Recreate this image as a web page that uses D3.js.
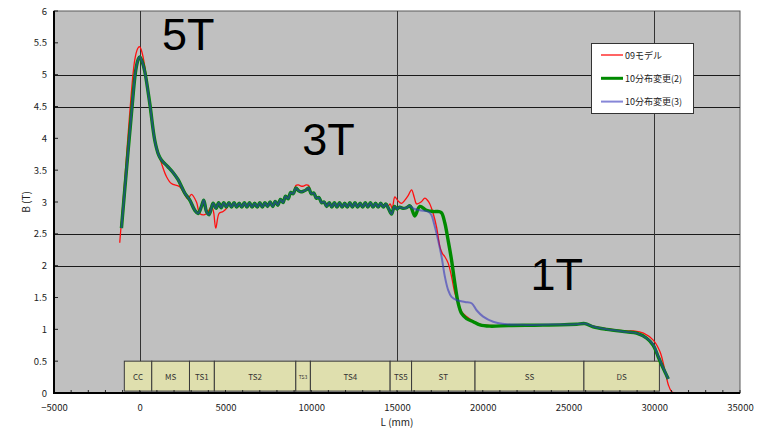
<!DOCTYPE html>
<html>
<head>
<meta charset="utf-8">
<script src="https://cdn.jsdelivr.net/npm/d3@7/dist/d3.min.js"></script>
<style>
  html, body { margin: 0; padding: 0; background: #ffffff; }
  svg { display: block; }
</style>
</head>
<body>
<svg id="chart" width="759" height="428"></svg>
<script>
// Field strength B (T) along the magnet line L (mm)

// Common rise and 5T peak of the 2010 layouts
const headNew = [[-1067,2.59],[-776,3.5],[-484,4.39],[-233,5.07],[-90,5.24],[0,5.28],[120,5.22],[292,5.05],
  [583,4.55],[875,3.97],[1100,3.74],[1264,3.66],[1653,3.55],[1950,3.46],[2236,3.35],[2625,3.14],[2917,3.03],
  [3208,2.87],[3400,2.82],[3600,2.93],[3733,3.03],[3890,2.85],[4043,2.8],[4276,2.98],[4450,2.9],[4600,2.99],
  [4750,2.91],[4900,2.99],[5050,2.92]];

// Rise and 5T peak of the 09 model
const head09 = [[-1167,2.36],[-875,3.35],[-583,4.4],[-292,5.23],[-120,5.41],[-20,5.44],[100,5.38],[292,5.13],
  [583,4.5],[875,3.97],[1264,3.61],[1556,3.4],[1847,3.29],[2333,3.24],[2600,3.13],[2800,3.05],[3014,3.12],
  [3307,3.0],[3500,2.82],[3792,2.8],[3985,2.85],[4180,2.93],[4300,2.85],[4433,2.59],[4627,2.82],[4860,2.85],
  [5055,2.9]];

// 3T section, coil ripple (TS2), shared by all layouts
const rippleTS2 = [[5200,2.99],[5350,2.92],[5500,2.99],[5650,2.92],[5800,2.98],[5950,2.92],[6100,2.99],
  [6250,2.92],[6400,2.99],[6550,2.92],[6700,2.98],[6850,2.92],[7000,2.99],[7150,2.92],[7300,2.99],[7450,2.93],
  [7600,3.0],[7750,2.93],[7900,3.01],[8050,2.95],[8200,3.04],[8350,2.99],[8500,3.09],[8650,3.05],[8800,3.15]];

// Local bump over TS3
const bumpNew = [[8950,3.13],[9100,3.22],[9250,3.18],[9400,3.16],[9550,3.17],[9700,3.19],[9850,3.22],
  [10000,3.13],[10150,3.14],[10300,3.06],[10450,3.07],[10600,2.99],[10750,3.0]];
const bump09 = [[8950,3.14],[9100,3.26],[9250,3.27],[9400,3.25],[9550,3.25],[9700,3.27],[9850,3.26],
  [10000,3.14],[10150,3.14],[10300,3.06],[10450,3.07],[10600,2.99],[10750,3.0]];

// Coil ripple over TS4, shared by all layouts
const rippleTS4 = [[10900,2.93],[11050,2.99],[11200,2.92],[11350,2.99],[11500,2.92],[11650,2.99],
  [11800,2.92],[11950,2.98],[12100,2.92],[12250,2.99],[12400,2.92],[12550,2.99],[12700,2.92],[12850,2.98],
  [13000,2.92],[13150,2.99],[13300,2.92],[13450,2.99],[13600,2.92],[13750,2.98],[13900,2.92],[14050,2.98],
  [14200,2.92],[14350,2.97]];

// TS5 entry, common to the 2010 layouts
const ts5New = [[14500,2.9],[14680,2.81],[14850,2.93],[15000,2.89],[15150,2.92],[15350,2.9],[15550,2.91],
  [15750,2.94]];

// Tails: ST drop to 1T, SS plateau, DS fall-off
const tail2 = [[15850,2.9],[16040,2.78],[16330,2.93],[16720,2.87],[17110,2.85],[17450,2.85],[17600,2.83],
  [17790,2.67],[17980,2.4],[18180,2.09],[18375,1.72],[18570,1.41],[18765,1.25],[19057,1.17],[19443,1.12],
  [19833,1.07],[20417,1.05],[21500,1.06],[23000,1.065],[24500,1.07],[25470,1.08],[25960,1.09],[26440,1.04],
  [27220,1.0],[28390,0.96],[28970,0.94],[29560,0.86],[29940,0.75],[30230,0.57],[30520,0.39],[30820,0.22]];

const tail3 = [[15940,2.9],[16330,2.87],[16820,2.85],[17000,2.8],[17150,2.67],[17400,2.4],[17600,2.14],
  [17790,1.83],[17980,1.62],[18180,1.51],[18470,1.46],[18960,1.43],[19350,1.41],[19640,1.3],[20025,1.2],
  [20610,1.12],[21390,1.08],[22500,1.07],[24000,1.075],[25470,1.08],[25960,1.09],[26440,1.045],[27220,1.0],
  [28390,0.96],[28970,0.94],[29560,0.86],[29940,0.76],[30230,0.58],[30520,0.4],[30820,0.22]];

const tail09 = [[14500,2.94],[14600,2.97],[14720,2.9],[14875,3.08],[15050,3.02],[15265,2.98],[15460,3.03],
  [15650,3.1],[15848,3.19],[16000,3.08],[16140,2.97],[16400,3.0],[16625,3.06],[16800,3.02],[16915,2.97],
  [17110,2.82],[17305,2.61],[17500,2.3],[17650,2.19],[17790,2.14],[17983,2.04],[18180,1.83],[18375,1.57],
  [18570,1.41],[18765,1.28],[19057,1.2],[19440,1.13],[19830,1.08],[20420,1.06],[21500,1.06],[23000,1.065],
  [24500,1.07],[25470,1.08],[25960,1.09],[26440,1.05],[27220,1.01],[28390,0.975],[28800,0.975],[29370,0.94],
  [29940,0.83],[30330,0.65],[30620,0.36],[30820,0.13],[31020,0.02],[31300,0.0],[31500,0.0]];

const seriesNames = ["09モデル", "10分布変更(2)", "10分布変更(3)"];
const series09 = [].concat(head09, rippleTS2, bump09, rippleTS4, tail09);
const series2 = [].concat(headNew, rippleTS2, bumpNew, rippleTS4, ts5New, tail2);
const series3 = [].concat(headNew, rippleTS2, bumpNew, rippleTS4, ts5New, tail3);

// Magnet sections along L
const sectionNames = ["CC", "MS", "TS1", "TS2", "TS3", "TS4", "TS5", "ST", "SS", "DS"];
const sectionStart = [-900, 700, 2900, 4350, 9100, 9950, 14600, 15850, 19550, 25900];
const sectionEnd   = [700, 2900, 4350, 9100, 9950, 14600, 15850, 19550, 25900, 30300];

// Field level annotations (left edge, baseline)
const levelLabels = ["5T", "3T", "1T"];
const levelL = [1300, 9480, 22780];
const levelB = [5.39, 3.74, 1.62];

const xTicks = [-5000, 0, 5000, 10000, 15000, 20000, 25000, 30000, 35000];
const yTicks = [0, 0.5, 1, 1.5, 2, 2.5, 3, 3.5, 4, 4.5, 5, 5.5, 6];
const yGrid = [2, 2.5, 4.5, 5];
const xGrid = [0, 15000, 30000];

const svg = d3.select("#chart");
const x = d3.scaleLinear().domain([-5000, 35000]).range([54, 740]);
const y = d3.scaleLinear().domain([0, 6]).range([393, 11]);

const labelFont = "'Noto Sans CJK JP', 'Noto Sans', sans-serif";

// plot area
svg.append("rect")
  .attr("x", x(-5000)).attr("y", y(6))
  .attr("width", x(35000) - x(-5000)).attr("height", y(0) - y(6))
  .attr("fill", "#c0c0c0").attr("stroke", "#5a5a5a").attr("stroke-width", 1);

// grid
svg.append("g").selectAll("line").data(yGrid).join("line")
  .attr("x1", x(-5000)).attr("x2", x(35000))
  .attr("y1", d => Math.round(y(d)) + 0.5).attr("y2", d => Math.round(y(d)) + 0.5)
  .attr("stroke", "#1a1a1a").attr("stroke-width", 1);
svg.append("g").selectAll("line").data(xGrid).join("line")
  .attr("x1", d => Math.round(x(d)) + 0.5).attr("x2", d => Math.round(x(d)) + 0.5)
  .attr("y1", y(6)).attr("y2", y(0))
  .attr("stroke", "#333333").attr("stroke-width", 1);

// section boxes
const sec = svg.append("g");
sectionNames.forEach((name, i) => {
  const x0 = x(sectionStart[i]), x1 = x(sectionEnd[i]);
  sec.append("rect")
    .attr("x", x0).attr("y", y(0.5))
    .attr("width", x1 - x0).attr("height", y(0.03) - y(0.5))
    .attr("fill", "#dfdfae").attr("stroke", "#3a3a3a").attr("stroke-width", 1);
  sec.append("text")
    .attr("x", (x0 + x1) / 2).attr("y", (y(0.5) + y(0.03)) / 2)
    .attr("text-anchor", "middle").attr("dominant-baseline", "central")
    .attr("font-family", labelFont)
    .attr("font-size", name === "TS3" ? 5 : 8)
    .attr("fill", "#333333")
    .text(name);
});

// series lines
const line = d3.line().x(d => x(d[0])).y(d => y(d[1])).curve(d3.curveCatmullRom.alpha(0.5));
svg.append("path").datum(series09).attr("d", line)
  .attr("fill", "none").attr("stroke", "#ff1010").attr("stroke-width", 1.3);
svg.append("path").datum(series2).attr("d", line)
  .attr("fill", "none").attr("stroke", "#008a00").attr("stroke-width", 3.4);
svg.append("path").datum(series3).attr("d", line)
  .attr("fill", "none").attr("stroke", "#3535bd").attr("stroke-opacity", 0.6).attr("stroke-width", 2);

// axes
const xAxis = d3.axisBottom(x).tickValues(xTicks).tickSize(0).tickPadding(11)
  .tickFormat(d => d < 0 ? "−" + Math.abs(d) : String(d));
const gx = svg.append("g").attr("transform", `translate(0,${y(0)})`).call(xAxis);
gx.select(".domain").remove();
gx.selectAll("text").attr("font-family", labelFont).attr("font-size", 9.5).attr("fill", "#222");

const yAxis = d3.axisLeft(y).tickValues(yTicks).tickSize(0).tickPadding(7)
  .tickFormat(d => String(d));
const gy = svg.append("g").attr("transform", `translate(${x(-5000)},0)`).call(yAxis);
gy.select(".domain").remove();
gy.selectAll("text").attr("font-family", labelFont).attr("font-size", 9.5).attr("fill", "#222");

// inner tick marks
svg.append("g").selectAll("line").data(yTicks).join("line")
  .attr("x1", x(-5000)).attr("x2", x(-5000) + 4)
  .attr("y1", d => y(d)).attr("y2", d => y(d))
  .attr("stroke", "#222").attr("stroke-width", 1);
svg.append("g").selectAll("line").data(d3.range(-5000, 35001, 1000)).join("line")
  .attr("x1", d => x(d)).attr("x2", d => x(d))
  .attr("y1", y(0)).attr("y2", y(0) - 3)
  .attr("stroke", "#222").attr("stroke-width", 1);

// axis lines
svg.append("line").attr("x1", x(-5000)).attr("x2", x(-5000)).attr("y1", y(6)).attr("y2", y(0) + 1)
  .attr("stroke", "#000").attr("stroke-width", 2);
svg.append("line").attr("x1", x(-5000) - 1).attr("x2", x(35000)).attr("y1", y(0)).attr("y2", y(0))
  .attr("stroke", "#000").attr("stroke-width", 2);

// axis titles
svg.append("text").attr("x", (x(-5000) + x(35000)) / 2).attr("y", 426)
  .attr("text-anchor", "middle").attr("font-family", labelFont).attr("font-size", 10).attr("fill", "#222")
  .text("L (mm)");
svg.append("text").attr("transform", `translate(30,${y(3)}) rotate(-90)`)
  .attr("text-anchor", "middle").attr("font-family", labelFont).attr("font-size", 10).attr("fill", "#222")
  .text("B (T)");

// level annotations
levelLabels.forEach((t, i) => {
  svg.append("text").attr("x", x(levelL[i])).attr("y", y(levelB[i]))
    .attr("text-anchor", "start")
    .attr("font-family", "'Liberation Sans', Arial, sans-serif").attr("font-size", 45).attr("fill", "#000")
    .text(t);
});

// legend
const lg = svg.append("g");
lg.append("rect").attr("x", 591.5).attr("y", 43.5).attr("width", 102).attr("height", 70)
  .attr("fill", "#ffffff").attr("stroke", "#333").attr("stroke-width", 1);
const legendStyle = [
  { color: "#ff1010", width: 1.3, opacity: 1 },
  { color: "#008a00", width: 3, opacity: 1 },
  { color: "#3535bd", width: 2, opacity: 0.6 }
];
seriesNames.forEach((name, i) => {
  const yy = 55 + i * 23.3;
  lg.append("line").attr("x1", 601).attr("x2", 623).attr("y1", yy).attr("y2", yy)
    .attr("stroke", legendStyle[i].color).attr("stroke-width", legendStyle[i].width)
    .attr("stroke-opacity", legendStyle[i].opacity);
  lg.append("text").attr("x", 625).attr("y", yy).attr("dominant-baseline", "central")
    .attr("font-family", labelFont).attr("font-size", 9).attr("fill", "#222")
    .text(name);
});
</script>
</body>
</html>
